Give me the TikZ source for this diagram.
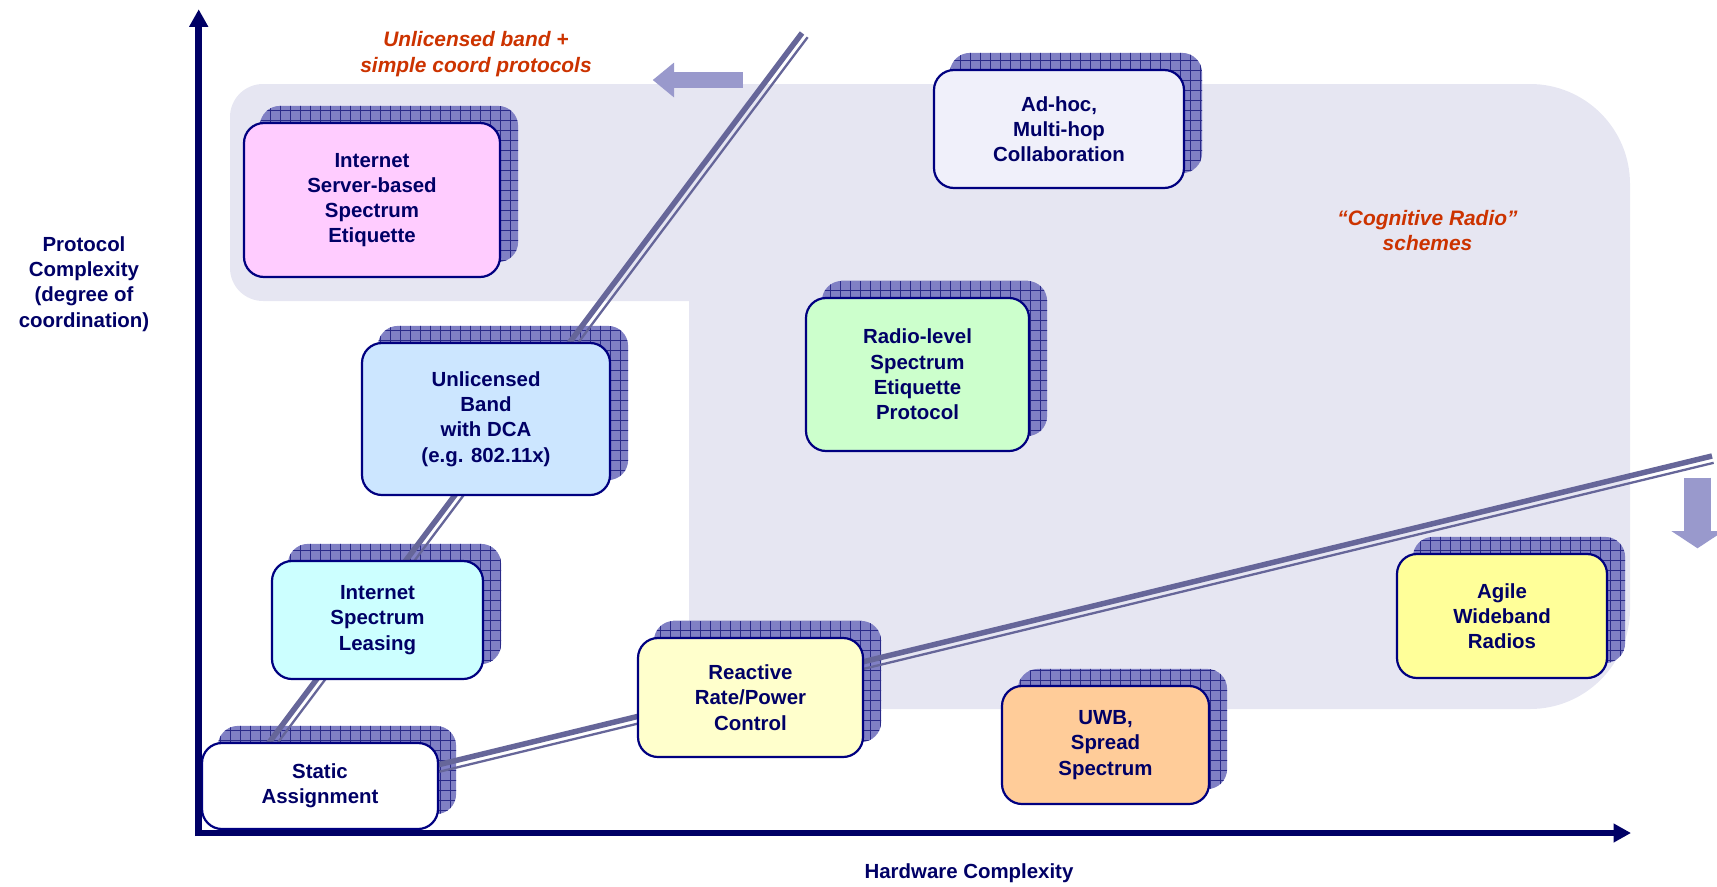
\documentclass[tikz,border=0pt]{standalone}
\usepackage{fontspec}
\setmainfont{Liberation Sans}
\usetikzlibrary{arrows.meta,calc}

\definecolor{navy}{HTML}{000066}
\definecolor{boxline}{HTML}{000080}
\definecolor{zone}{HTML}{E6E6F2}
\definecolor{rail}{HTML}{666699}
\definecolor{hint}{HTML}{9999CC}
\definecolor{note}{HTML}{CC3300}
\definecolor{shadowblue}{HTML}{8080C4}
\definecolor{shadowgrid}{HTML}{2A2A88}
\definecolor{fpink}{HTML}{FFCCFF}
\definecolor{flav}{HTML}{F0F0FA}
\definecolor{fgreen}{HTML}{CCFFCC}
\definecolor{fblue}{HTML}{CCE6FF}
\definecolor{fcyan}{HTML}{CCFFFF}
\definecolor{fcream}{HTML}{FFFFCC}
\definecolor{forange}{HTML}{FFCC99}
\definecolor{fyellow}{HTML}{FFFF99}

\pgfdeclarelayer{zonelayer}
\pgfdeclarelayer{shadowlayer}
\pgfdeclarelayer{raillayer}
\pgfsetlayers{zonelayer,shadowlayer,raillayer,main}

\newcommand\boxfont{\bfseries\fontsize{20.5}{25.3}\selectfont}
\newcommand\notefont{\bfseries\itshape\fontsize{21}{26}\selectfont}

\tikzset{
  box/.style={draw=boxline, line width=2.2bp, rounded corners=20bp,
    align=center, text=navy, font=\boxfont, inner sep=0pt},
  notetext/.style={align=center, text=note, font=\notefont, inner sep=0pt},
  axislabel/.style={align=center, text=navy, font=\boxfont, inner sep=0pt},
  axisline/.style={draw=navy, line width=6.5bp,
    -{Triangle[length=17.5bp,width=18bp]}},
  railthick/.style={draw=rail, line width=5.5bp},
  railthin/.style={draw=rail, line width=2.3bp},
}

% grid-textured drop shadow behind a box, offset up and to the right
\newcommand\boxshadow[1]{%
  \begin{pgfonlayer}{shadowlayer}
    \begin{scope}
      \path[clip, rounded corners=20bp]
        ($(#1.south west)+(17,-16)$) rectangle ($(#1.north east)+(17,-16)$);
      \fill[shadowblue] ($(#1.south west)+(0,10)$) rectangle ($(#1.north east)+(30,-30)$);
      \draw[shadowgrid, line width=0.9bp]
        ($(#1.south west)+(0,10)$) grid[step=10bp] ($(#1.north east)+(30,-30)$);
    \end{scope}
  \end{pgfonlayer}}

\begin{document}
\begin{tikzpicture}[x=1bp, y=-1bp]
\useasboundingbox (0,0) rectangle (1717,886);

% shaded "cognitive radio" zone
\begin{pgfonlayer}{zonelayer}
  \fill[zone] (263,84) -- (1530,84) arc[start angle=270,end angle=360,radius=100]
    -- (1630,609) arc[start angle=0,end angle=90,radius=100]
    -- (689,709) -- (689,301) -- (263,301)
    arc[start angle=90,end angle=180,radius=33]
    -- (230,117) arc[start angle=180,end angle=270,radius=33] -- cycle;
\end{pgfonlayer}

% boxes
\node[box, fill=fpink, minimum width=256bp, minimum height=154bp] (ise) at (372,200)
  {Internet\\Server-based\\Spectrum\\Etiquette};
\node[box, fill=flav, minimum width=250bp, minimum height=118bp] (adhoc) at (1059,129)
  {Ad-hoc,\\Multi-hop\\Collaboration};
\node[box, fill=fgreen, minimum width=223bp, minimum height=153bp] (radio) at (917.5,374.5)
  {Radio-level\\Spectrum\\Etiquette\\Protocol};
\node[box, fill=fblue, minimum width=248bp, minimum height=152bp] (dca) at (486,419)
  {Unlicensed\\Band\\with DCA\\(e.g. 802.11x)};
\node[box, fill=fcyan, minimum width=211bp, minimum height=118bp] (lease) at (377.5,620)
  {Internet\\Spectrum\\Leasing};
\node[box, fill=fcream, minimum width=225bp, minimum height=119bp] (react) at (750.5,697.5)
  {Reactive\\Rate/Power\\Control};
\node[box, fill=forange, minimum width=207bp, minimum height=118bp] (uwb) at (1105.5,745)
  {UWB,\\Spread\\Spectrum};
\node[box, fill=fyellow, minimum width=210bp, minimum height=124bp] (agile) at (1502,616)
  {Agile\\Wideband\\Radios};
\node[box, fill=white, minimum width=236bp, minimum height=86bp] (static) at (320,786)
  {Static\\Assignment};

\boxshadow{ise}
\boxshadow{adhoc}
\boxshadow{radio}
\boxshadow{dca}
\boxshadow{lease}
\boxshadow{react}
\boxshadow{uwb}
\boxshadow{agile}
\boxshadow{static}

% double rails rising from the static assignment
\coordinate (r1s) at (262,752);
\coordinate (r1e) at (802,33);
\coordinate (r2s) at (420,769.2);
\coordinate (r2e) at (1712,456);
\begin{pgfonlayer}{raillayer}
  \draw[railthick] (r1s) -- (r1e);
  \draw[railthin] ($(r1s)+(5.6,4.2)$) -- ($(r1e)+(5.6,4.2)$);
  \draw[railthick] (r2s) -- (r2e);
  \draw[railthin] ($(r2s)+(1.65,6.8)$) -- ($(r2e)+(1.65,6.8)$);
\end{pgfonlayer}

% block arrows
\coordinate (la1) at (742.7,80);
\coordinate (la2) at (652.7,80);
\draw[hint, line width=16.6bp, -{Triangle[length=21.3bp,width=33.4bp]}] (la1) -- (la2);
\coordinate (da1) at (1697.5,477.7);
\coordinate (da2) at (1697.5,548.3);
\draw[hint, line width=27bp, -{Triangle[length=17.3bp,width=51.6bp]}] (da1) -- (da2);

% axes
\coordinate (oy) at (198.7,836);
\coordinate (ty) at (198.7,9.3);
\coordinate (ox) at (195.5,833);
\coordinate (tx) at (1631,833);
\draw[axisline] (oy) -- (ty);
\draw[axisline] (ox) -- (tx);

% labels
\node[axislabel] (ylab) at (84,284) {Protocol\\Complexity\\(degree of\\coordination)};
\node[axislabel] (xlab) at (969,873) {Hardware Complexity};
\node[notetext] (unl) at (476,53.7) {Unlicensed band +\\simple coord protocols};
\node[notetext] (cog) at (1427.5,230.5) {“Cognitive Radio”\\schemes};
\end{tikzpicture}
\end{document}
